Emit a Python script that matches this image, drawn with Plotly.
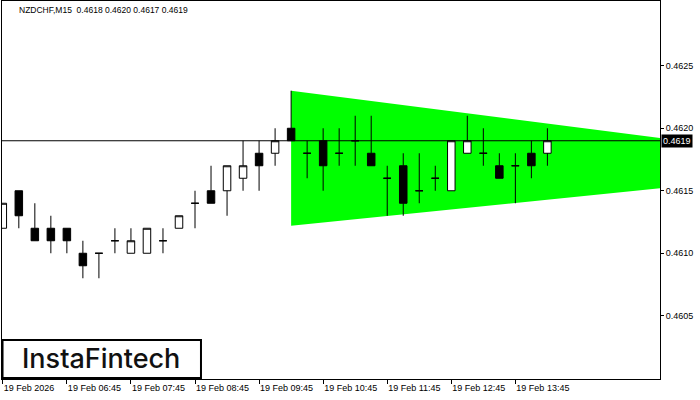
import plotly.graph_objects as go

times = ["05:45", "06:00", "06:15", "06:30", "06:45", "07:00", "07:15", "07:30",
         "07:45", "08:00", "08:15", "08:30", "08:45", "09:00", "09:15", "09:30",
         "09:45", "10:00", "10:15", "10:30", "10:45", "11:00", "11:15", "11:30",
         "11:45", "12:00", "12:15", "12:30", "12:45", "13:00", "13:15", "13:30",
         "13:45", "14:00", "14:15"]
opens = [0.4612, 0.4615, 0.4612, 0.4612, 0.4612, 0.4610, 0.4610, 0.4611, 0.4610,
         0.4610, 0.4611, 0.4612, 0.4614, 0.4615, 0.4615, 0.4616, 0.4618, 0.4618,
         0.4620, 0.4618, 0.4619, 0.4618, 0.4619, 0.4618, 0.4616, 0.4617, 0.4615,
         0.4616, 0.4615, 0.4618, 0.4618, 0.4617, 0.4617, 0.4618, 0.4618]
highs = [0.4614, 0.4615, 0.4614, 0.4613, 0.4612, 0.4611, 0.4610, 0.4612, 0.4612,
         0.4612, 0.4612, 0.4613, 0.4615, 0.4617, 0.4617, 0.4619, 0.4619, 0.4620,
         0.4623, 0.4619, 0.4620, 0.4620, 0.4621, 0.4621, 0.4617, 0.4618, 0.4618,
         0.4617, 0.4619, 0.4621, 0.4620, 0.4618, 0.4618, 0.4619, 0.4620]
lows = [0.4612, 0.4612, 0.4611, 0.4610, 0.4610, 0.4608, 0.4608, 0.4610, 0.4610,
        0.4610, 0.4610, 0.4612, 0.4612, 0.4614, 0.4613, 0.4615, 0.4615, 0.4617,
        0.4619, 0.4616, 0.4615, 0.4617, 0.4617, 0.4617, 0.4613, 0.4613, 0.4614,
        0.4615, 0.4615, 0.4618, 0.4617, 0.4616, 0.4614, 0.4616, 0.4617]
closes = [0.4614, 0.4613, 0.4611, 0.4611, 0.4611, 0.4609, 0.4610, 0.4611, 0.4611,
          0.4612, 0.4611, 0.4613, 0.4614, 0.4614, 0.4617, 0.4617, 0.4617, 0.4619,
          0.4619, 0.4618, 0.4617, 0.4618, 0.4619, 0.4617, 0.4616, 0.4614, 0.4615,
          0.4616, 0.4619, 0.4619, 0.4618, 0.4616, 0.4617, 0.4617, 0.4619]

# triangle (pattern) boundaries
tri_times = ["10:15", "16:15"]
tri_upper = [0.4623, 0.461906]
tri_lower = [0.46122, 0.461532]

x_tick_times = ["05:45", "06:45", "07:45", "08:45", "09:45", "10:45", "11:45", "12:45", "13:45"]
x_tick_text = ["19 Feb 2026", "19 Feb 06:45", "19 Feb 07:45", "19 Feb 08:45", "19 Feb 09:45",
               "19 Feb 10:45", "19 Feb 11:45", "19 Feb 12:45", "19 Feb 13:45"]
y_ticks = [0.4605, 0.4610, 0.4615, 0.4620, 0.4625]
title_text = "NZDCHF,M15  0.4618 0.4620 0.4617 0.4619"


def minutes(t):
    h, m = t.split(":")
    return int(h) * 60 + int(m)


def bar_index(t):
    return (minutes(t) - minutes(times[0])) / 15.0


x = [bar_index(t) for t in times]
tx = [bar_index(t) for t in tri_times]
xticks = [bar_index(t) for t in x_tick_times]

fig = go.Figure()
fig.add_trace(go.Candlestick(
    x=x, open=opens, high=highs, low=lows, close=closes,
    increasing=dict(fillcolor="white", line=dict(color="black", width=1)),
    decreasing=dict(fillcolor="black", line=dict(color="black", width=1)),
    whiskerwidth=0, showlegend=False))

tri_path = (f"M {tx[0]},{tri_upper[0]} L {tx[1]},{tri_upper[1]} "
            f"L {tx[1]},{tri_lower[1]} L {tx[0]},{tri_lower[0]} Z")
fig.add_shape(type="path", xref="x", yref="y", path=tri_path, layer="below",
              fillcolor="#00FF00", line=dict(width=0))

last = closes[-1]
fig.add_shape(type="line", xref="paper", x0=0, x1=1, yref="y", y0=last, y1=last,
              line=dict(color="black", width=1))

xr = [x[0] - 0.05, x[0] + 41.03]

font = "Liberation Sans"
fig.update_layout(
    width=700, height=400,
    margin=dict(l=2, r=40, t=1, b=21),
    paper_bgcolor="white", plot_bgcolor="white",
    boxgap=0.33,
    font=dict(family=font, size=9, color="black"),
    xaxis=dict(type="linear", range=xr, rangeslider=dict(visible=False),
               showgrid=False, zeroline=False, showline=True, mirror=True,
               linecolor="black", linewidth=1,
               tickvals=xticks, ticktext=x_tick_text,
               ticks="outside", ticklen=4, tickcolor="black",
               ticklabelposition="outside right",
               tickfont=dict(family=font, size=9)),
    yaxis=dict(range=[0.459994, 0.463018], side="right",
               showgrid=False, zeroline=False, showline=True, mirror=True,
               linecolor="black", linewidth=1,
               tickvals=y_ticks, tickformat=".4f",
               ticks="outside", ticklen=3, tickcolor="black",
               tickfont=dict(family=font, size=9)),
)

fig.add_annotation(xref="paper", yref="paper", x=0.0228, y=0.976, xanchor="left",
                   yanchor="middle", text=title_text, showarrow=False,
                   font=dict(family=font, size=8.5, color="black"))
fig.add_annotation(xref="paper", yref="y", x=1, y=last, xanchor="left", yanchor="middle",
                   xshift=1, text=f"{last:.4f}", showarrow=False, bgcolor="black",
                   borderpad=1, font=dict(family=font, size=9, color="white"))

# logo box
fig.add_shape(type="rect", xref="paper", yref="paper", x0=0.0008, x1=0.3024,
              y0=0.0026, y1=0.1032, fillcolor="white", line=dict(color="black", width=2))
fig.add_annotation(xref="paper", yref="paper", x=0.1505, y=0.053, xanchor="center",
                   yanchor="middle", text="InstaFintech", showarrow=False,
                   font=dict(family="Inter", size=27, color="#111111", weight=500))

fig.write_html("out.html", config={"displayModeBar": False},
               post_script="document.body.style.margin='0px';")
